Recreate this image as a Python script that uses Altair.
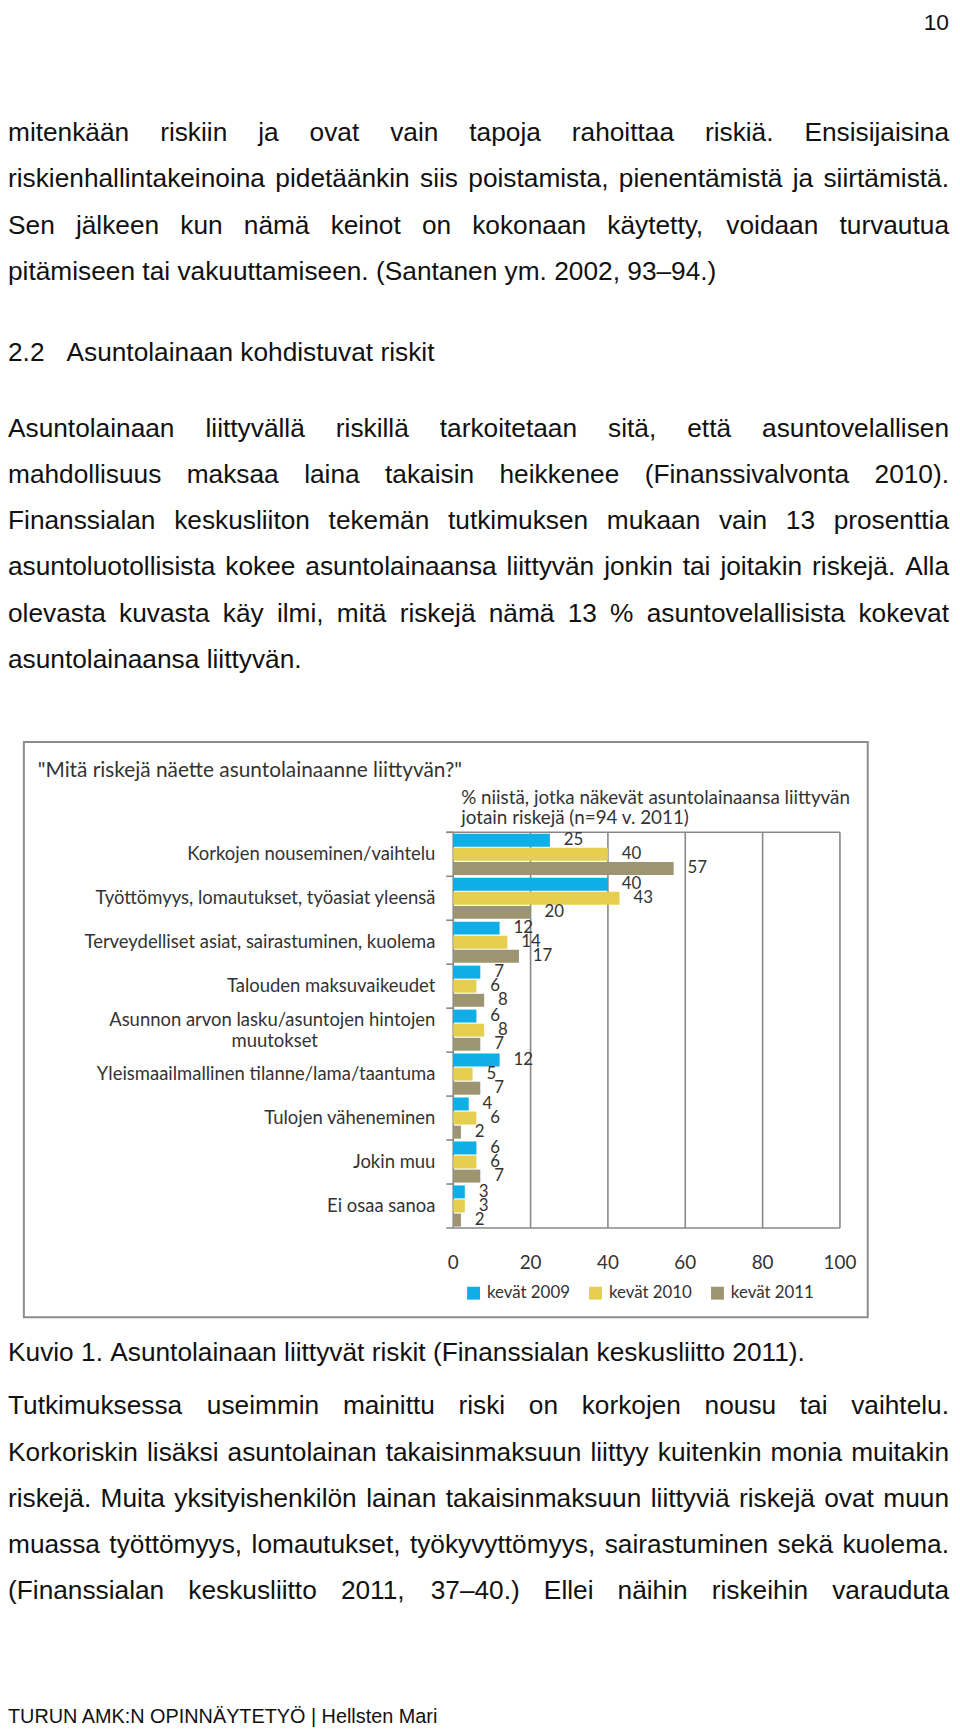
import altair as alt
import pandas as pd

# ---------------- chart data ----------------
category_lines = [
    ["Korkojen nouseminen/vaihtelu"],
    ["Työttömyys, lomautukset, työasiat yleensä"],
    ["Terveydelliset asiat, sairastuminen, kuolema"],
    ["Talouden maksuvaikeudet"],
    ["Asunnon arvon lasku/asuntojen hintojen", "muutokset"],
    ["Yleismaailmallinen tilanne/lama/taantuma"],
    ["Tulojen väheneminen"],
    ["Jokin muu"],
    ["Ei osaa sanoa"],
]
categories = [" ".join(l) for l in category_lines]
series = ["kevät 2009", "kevät 2010", "kevät 2011"]
v2009 = [25, 40, 12, 7, 6, 12, 4, 6, 3]
v2010 = [40, 43, 14, 6, 8, 5, 6, 6, 3]
v2011 = [57, 20, 17, 8, 7, 7, 2, 7, 2]
x_ticks = [0, 20, 40, 60, 80, 100]
colors = ["#0FAEE8", "#E6CF4F", "#9D9572"]

chart_title = '"Mitä riskejä näette asuntolainaanne liittyvän?"'
subtitle_lines = ["% niistä, jotka näkevät asuntolainaansa liittyvän",
                  "jotain riskejä (n=94 v. 2011)"]

# ---------------- page text ----------------
page_number = "10"
para1 = [
    "mitenkään riskiin ja ovat vain tapoja rahoittaa riskiä. Ensisijaisina",
    "riskienhallintakeinoina pidetäänkin siis poistamista, pienentämistä ja siirtämistä.",
    "Sen jälkeen kun nämä keinot on kokonaan käytetty, voidaan turvautua",
    "pitämiseen tai vakuuttamiseen. (Santanen ym. 2002, 93–94.)",
]
heading_num = "2.2"
heading_text = "Asuntolainaan kohdistuvat riskit"
para2 = [
    "Asuntolainaan liittyvällä riskillä tarkoitetaan sitä, että asuntovelallisen",
    "mahdollisuus maksaa laina takaisin heikkenee (Finanssivalvonta 2010).",
    "Finanssialan keskusliiton tekemän tutkimuksen mukaan vain 13 prosenttia",
    "asuntoluotollisista kokee asuntolainaansa liittyvän jonkin tai joitakin riskejä. Alla",
    "olevasta kuvasta käy ilmi, mitä riskejä nämä 13 % asuntovelallisista kokevat",
    "asuntolainaansa liittyvän.",
]
caption = "Kuvio 1. Asuntolainaan liittyvät riskit (Finanssialan keskusliitto 2011)."
para3 = [
    "Tutkimuksessa useimmin mainittu riski on korkojen nousu tai vaihtelu.",
    "Korkoriskin lisäksi asuntolainan takaisinmaksuun liittyy kuitenkin monia muitakin",
    "riskejä. Muita yksityishenkilön lainan takaisinmaksuun liittyviä riskejä ovat muun",
    "muassa työttömyys, lomautukset, työkyvyttömyys, sairastuminen sekä kuolema.",
    "(Finanssialan keskusliitto 2011, 37–40.) Ellei näihin riskeihin varauduta",
]
footer = "TURUN AMK:N OPINNÄYTETYÖ | Hellsten Mari"

# ---------------- layout helpers ----------------
W, H = 952, 1726
BODY_FONT = "Liberation Sans"
BODY_FS = 26.5
LINE = 46.65
TEXT_RIGHT = 949

AW = {
    'a': 556, 'b': 556, 'c': 500, 'd': 556, 'e': 556, 'f': 278, 'g': 556, 'h': 556,
    'i': 222, 'j': 222, 'k': 500, 'l': 222, 'm': 833, 'n': 556, 'o': 556, 'p': 556,
    'q': 556, 'r': 333, 's': 500, 't': 278, 'u': 556, 'v': 500, 'w': 722, 'x': 500,
    'y': 500, 'z': 500, 'ä': 556, 'ö': 556, 'å': 556,
    'A': 667, 'B': 667, 'C': 722, 'D': 722, 'E': 667, 'F': 611, 'G': 778, 'H': 722,
    'I': 278, 'J': 500, 'K': 667, 'L': 556, 'M': 833, 'N': 722, 'O': 778, 'P': 667,
    'Q': 778, 'R': 722, 'S': 667, 'T': 611, 'U': 722, 'V': 667, 'W': 944, 'X': 667,
    'Y': 667, 'Z': 611, 'Ä': 667, 'Ö': 778,
    ' ': 278, ',': 278, '.': 278, '(': 333, ')': 333, '–': 556, '%': 889, ':': 278,
    '|': 260, '-': 333, '/': 278,
}


def tw(s, fs):
    return sum(AW.get(c, 556) for c in s) * fs / 1000.0


def lay_line(line, y, justify, fs=BODY_FS, left=0, right=TEXT_RIGHT):
    words = line.split(" ")
    if justify and len(words) > 1:
        gap = (right - left - sum(tw(w, fs) for w in words)) / (len(words) - 1)
    else:
        gap = tw(" ", fs)
    rows, x = [], left
    for w in words:
        rows.append({"px": x, "py": y, "t": w})
        x += tw(w, fs) + gap
    return rows


def lay_para(lines, y0, last_justified=False):
    rows = []
    for i, ln in enumerate(lines):
        just = (i < len(lines) - 1) or last_justified
        rows += lay_line(ln, y0 + i * LINE, justify=just)
    return rows


body_rows = []
body_rows += lay_para(para1, 127)
body_rows += [{"px": 0, "py": 349, "t": heading_num},
              {"px": 59, "py": 349, "t": heading_text}]
body_rows += lay_para(para2, 425)
body_rows += lay_line(caption, 1357, justify=False)
body_rows += lay_para(para3, 1411, last_justified=True)


def text_layer(rows, font, size, color="#111111", align="left", baseline="alphabetic"):
    return alt.Chart(pd.DataFrame(rows)).mark_text(
        align=align, baseline=baseline, font=font, fontSize=size, color=color
    ).encode(
        x=alt.X("px:Q", scale=None, axis=None),
        y=alt.Y("py:Q", scale=None, axis=None),
        text="t:N",
    )


body = text_layer(body_rows, BODY_FONT, BODY_FS)
pnum = text_layer([{"px": 949, "py": 15, "t": page_number}], BODY_FONT, 23, align="right")
foot = text_layer([{"px": 0, "py": 1722, "t": footer}], BODY_FONT, 20)

# ---------------- chart ----------------
CF = "Lato"
TXT = "#333333"
GRID = "#878787"
X_RANGE = [449, 839]
Y_RANGE = [824, 1223]
LAB_FS = 18.6

rows = []
for ci, c in enumerate(categories):
    for s, vals in zip(series, [v2009, v2010, v2011]):
        rows.append({"cat": c, "series": s, "value": vals[ci]})
bars_df = pd.DataFrame(rows)

lab_df = pd.DataFrame({
    "cat": categories,
    "line1": [l[0] for l in category_lines],
    "line2": [l[1] if len(l) > 1 else "" for l in category_lines],
})


def xenc(field):
    return alt.X(field, scale=alt.Scale(domain=[0, 100], range=X_RANGE), axis=None)


def yenc(**kw):
    return alt.Y("cat:N", sort=categories,
                 scale=alt.Scale(domain=categories, range=Y_RANGE, paddingInner=0, paddingOuter=0),
                 axis=None, **kw)


yoff = alt.YOffset("series:N", sort=series,
                   scale=alt.Scale(domain=series, paddingInner=0.08, paddingOuter=0.1))

frame = alt.Chart(pd.DataFrame({"a": [0]})).mark_rect(
    fill="white", stroke="#8c8c8c", strokeWidth=2
).encode(x=alt.value(16), x2=alt.value(867), y=alt.value(733), y2=alt.value(1313))

title = text_layer([{"px": 30, "py": 768, "t": chart_title}], CF, 21, color=TXT)
sub = text_layer([{"px": 457, "py": 795 + 21 * i, "t": t} for i, t in enumerate(subtitle_lines)],
                 CF, 19, color=TXT)

grid = alt.Chart(pd.DataFrame({"t": x_ticks})).mark_rule(
    color=GRID, strokeWidth=1.6
).encode(x=xenc("t:Q"), y=alt.value(Y_RANGE[0]), y2=alt.value(Y_RANGE[1]))

hlines = alt.Chart(pd.DataFrame({"y": [Y_RANGE[0], Y_RANGE[1]]})).mark_rule(
    color=GRID, strokeWidth=1.6
).encode(x=alt.value(442), x2=alt.value(X_RANGE[1]), y=alt.Y("y:Q", scale=None, axis=None))

yticks = alt.Chart(lab_df).mark_rule(color=GRID, strokeWidth=1.6).encode(
    y=yenc(bandPosition=0), x=alt.value(442), x2=alt.value(X_RANGE[0])
)

bars = alt.Chart(bars_df).mark_bar().encode(
    y=yenc(), yOffset=yoff, x=xenc("value:Q"),
    color=alt.Color("series:N", sort=series,
                    scale=alt.Scale(domain=series, range=colors),
                    legend=alt.Legend(orient="none", legendX=461, legendY=1280,
                                      direction="horizontal", title=None,
                                      symbolType="square", symbolSize=169,
                                      symbolStrokeWidth=0, labelFont=CF,
                                      labelFontSize=17, labelColor=TXT,
                                      labelOffset=5, columnPadding=17, padding=0)),
)

vlabels = alt.Chart(bars_df).mark_text(
    align="left", baseline="middle", dx=14, font=CF, fontSize=17, color=TXT
).encode(y=yenc(), yOffset=yoff, x=xenc("value:Q"), text="value:Q")

cat_single = alt.Chart(lab_df).transform_filter("datum.line2 == ''").mark_text(
    align="right", baseline="middle", font=CF, fontSize=LAB_FS, color=TXT
).encode(y=yenc(), x=alt.value(431), text="line1:N")

cat_two_a = alt.Chart(lab_df).transform_filter("datum.line2 != ''").mark_text(
    align="right", baseline="middle", dy=-10.5, font=CF, fontSize=LAB_FS, color=TXT
).encode(y=yenc(), x=alt.value(431), text="line1:N")

cat_two_b = alt.Chart(lab_df).transform_filter("datum.line2 != ''").mark_text(
    align="center", baseline="middle", dy=11, font=CF, fontSize=LAB_FS, color=TXT
).encode(y=yenc(), x=alt.value(269), text="line2:N")

xlabels = alt.Chart(pd.DataFrame({"t": x_ticks})).mark_text(
    align="center", baseline="alphabetic", font=CF, fontSize=19, color=TXT
).encode(x=xenc("t:Q"), y=alt.value(1264), text="t:Q")

chart = alt.layer(
    body, pnum, foot, frame, title, sub, grid, hlines, yticks, bars, vlabels,
    cat_single, cat_two_a, cat_two_b, xlabels
).resolve_scale(x="independent", y="independent").properties(
    width=W, height=H, autosize="none", padding=0
).configure_view(stroke=None)

chart.save("out.html", embed_options={"renderer": "svg", "actions": False})
